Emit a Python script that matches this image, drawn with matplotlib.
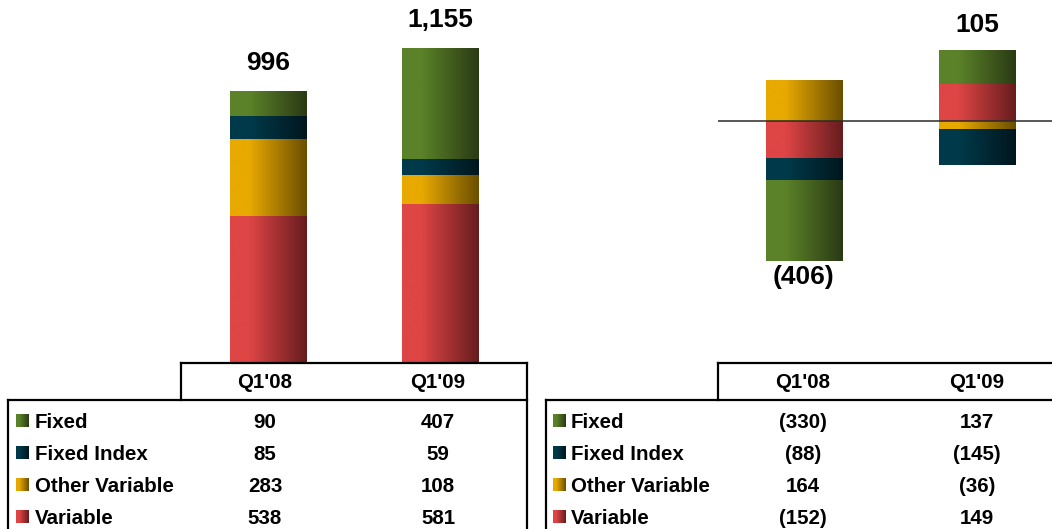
""" Stacked bars with data tables """
import numpy as np
import matplotlib
matplotlib.use("Agg")
import matplotlib.pyplot as plt
from matplotlib.colors import LinearSegmentedColormap

plt.rcParams['font.family'] = ['Liberation Sans', 'DejaVu Sans']

# # Data
categories = ["Q1'08", "Q1'09"]
series = ["Fixed", "Fixed Index", "Other Variable", "Variable"]

# left panel (all positive)
left_fixed = [90, 407]
left_fixed_index = [85, 59]
left_other_var = [283, 108]
left_variable = [538, 581]

# right panel (changes, negatives shown in brackets)
right_fixed = [-330, 137]
right_fixed_index = [-88, -145]
right_other_var = [164, -36]
right_variable = [-152, 149]

# gradient colours (light left -> dark right) per series
grad_colors = {
    "Fixed": ("#5b8229", "#2a3a14"),
    "Fixed Index": ("#003a4a", "#00161e"),
    "Other Variable": ("#e8a900", "#6a4e00"),
    "Variable": ("#de4545", "#661c1e"),
}
cmaps = {
    name: LinearSegmentedColormap.from_list(name, [(0, c[0]), (0.25, c[0]), (1, c[1])])
    for name, c in grad_colors.items()
}
grad = np.linspace(0, 1, 256).reshape(1, -1)

W, H = 1052, 529
fig = plt.figure(figsize=(W / 100, H / 100), dpi=100)


def fmt(v):
    return f"({abs(v):,})" if v < 0 else f"{v:,}"


def stacked(ax, data, width):
    # bottom-up stacking order, positives up and negatives down
    order = ["Variable", "Other Variable", "Fixed Index", "Fixed"]
    x = np.arange(len(categories))
    pos = np.zeros(len(categories))
    neg = np.zeros(len(categories))
    for name in order:
        vals = np.array(data[name], dtype=float)
        bottom = np.where(vals >= 0, pos, neg)
        bars = ax.bar(x, vals, width, bottom=bottom, color=grad_colors[name][0],
                      linewidth=0, zorder=2)
        for p in bars:
            y0, y1 = sorted([p.get_y(), p.get_y() + p.get_height()])
            ax.imshow(grad, extent=(p.get_x(), p.get_x() + p.get_width(), y0, y1),
                      cmap=cmaps[name], aspect='auto', zorder=3, interpolation='bilinear')
        pos += np.where(vals >= 0, vals, 0)
        neg += np.where(vals < 0, vals, 0)
    return x, pos, neg


# # Left bars
ax1 = fig.add_axes([180 / W, (H - 362) / H, 347 / W, 362 / H])
left_data = {"Fixed": left_fixed, "Fixed Index": left_fixed_index,
             "Other Variable": left_other_var, "Variable": left_variable}
x, pos, neg = stacked(ax1, left_data, 0.442)
for xi, top in zip(x, pos):
    ax1.annotate(fmt(int(top)), (xi, top), xytext=(0, 20), textcoords='offset points',
                 ha='center', va='center', fontsize=19, fontweight='bold')
ax1.set_xlim(-88 / 172, 259 / 172)
ax1.set_ylim(0, 362 / 0.272)
ax1.axis('off')

# # Right bars
ax2 = fig.add_axes([718 / W, (H - 362) / H, 334 / W, 362 / H])
right_data = {"Fixed": right_fixed, "Fixed Index": right_fixed_index,
              "Other Variable": right_other_var, "Variable": right_variable}
x, pos, neg = stacked(ax2, right_data, 0.44)
net = [sum(v) for v in zip(right_fixed, right_fixed_index, right_other_var, right_variable)]
for xi, n, top, bot in zip(x, net, pos, neg):
    if n >= 0:
        ax2.annotate(fmt(n), (xi, top), xytext=(0, 19), textcoords='offset points',
                     ha='center', va='center', fontsize=19, fontweight='bold')
    else:
        ax2.annotate(fmt(n), (xi, bot), xytext=(0, -12), textcoords='offset points',
                     ha='center', va='center', fontsize=19, fontweight='bold')
ax2.axhline(0, color='#2a2a2a', lw=1.1, zorder=4)
ax2.set_xlim(-86 / 173, 248 / 173)
ax2.set_ylim(-(362 - 121) / 0.245, 121 / 0.245)
ax2.axis('off')

# # Tables (pixel coordinates overlay)
ov = fig.add_axes([0, 0, 1, 1], zorder=5)
ov.set_xlim(0, W)
ov.set_ylim(H, 0)
ov.axis('off')
ov.patch.set_alpha(0)

lw = 1.6
row_y = [421, 453, 485, 517]
tables = [
    # (body left, header left, right, column centres, label x, swatch x, values)
    (8, 181, 527, [265, 438], 35, 16, [left_fixed, left_fixed_index, left_other_var, left_variable]),
    (546, 718, 1052, [803, 977], 571, 553, [right_fixed, right_fixed_index, right_other_var, right_variable]),
]
for body_l, head_l, right, cols, lab_x, sw_x, vals in tables:
    kw = dict(color='black', lw=lw, clip_on=False, solid_capstyle='projecting')
    ov.plot([head_l, right], [363, 363], **kw)
    ov.plot([head_l, head_l], [363, 400], **kw)
    ov.plot([body_l, right], [400, 400], **kw)
    ov.plot([body_l, body_l], [400, H], **kw)
    if right < W - 5:
        ov.plot([right, right], [363, H], **kw)
    for cx, cat in zip(cols, categories):
        ov.text(cx, 383, cat, ha='center', va='center', fontsize=14.8, fontweight='bold')
    for ry, name, v in zip(row_y, series, vals):
        ov.imshow(grad, extent=(sw_x, sw_x + 13, ry + 6.5, ry - 6.5), cmap=cmaps[name],
                  aspect='auto', zorder=3)
        ov.text(lab_x, ry + 1, name, ha='left', va='center', fontsize=14.8, fontweight='bold')
        for cx, val in zip(cols, v):
            ov.text(cx, ry + 1, fmt(val), ha='center', va='center', fontsize=14.8,
                    fontweight='bold')
ov.set_xlim(0, W)
ov.set_ylim(H, 0)

plt.savefig("out.png", dpi=100)
